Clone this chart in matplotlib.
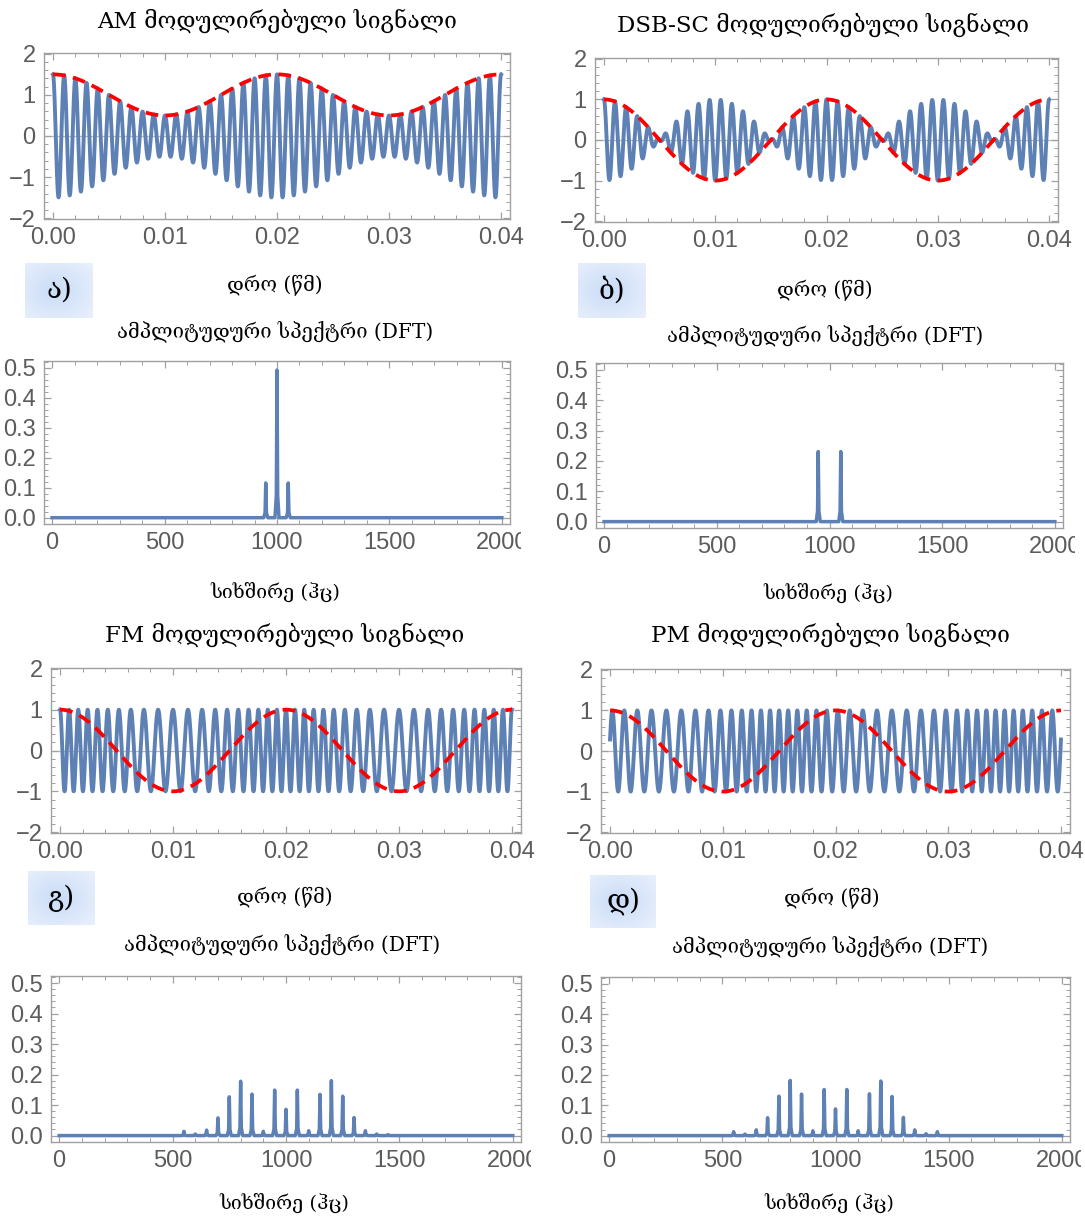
import numpy as np
import matplotlib
matplotlib.use("Agg")
import matplotlib.pyplot as plt
from matplotlib.ticker import MultipleLocator, FixedLocator
from matplotlib.transforms import Bbox
from matplotlib.colors import LinearSegmentedColormap

W, H = 1085, 1217

# ---- signal parameters ----
duration_s = 0.04
carrier_hz = 1000.0
message_hz = 50.0
am_index = 0.5
fm_beta = 5.0
pm_beta = 5.0

# ---- texts ----
panel_titles = ["AM მოდულირებული სიგნალი", "DSB-SC მოდულირებული სიგნალი",
                "FM მოდულირებული სიგნალი", "PM მოდულირებული სიგნალი"]
panel_letters = ["ა)", "ბ)", "გ)", "დ)"]
time_label = "დრო (წმ)"
freq_label = "სიხშირე (ჰც)"
spec_title = "ამპლიტუდური სპექტრი (DFT)"

time_ticks = [0.00, 0.01, 0.02, 0.03, 0.04]
time_tick_labels = ["0.00", "0.01", "0.02", "0.03", "0.04"]
amp_ticks = [-2, -1, 0, 1, 2]
amp_tick_labels = ["\u22122", "\u22121", "0", "1", "2"]
freq_ticks = [0, 500, 1000, 1500, 2000]
freq_tick_labels = ["0", "500", "1000", "1500", "2000"]
spec_ticks = [0.0, 0.1, 0.2, 0.3, 0.4, 0.5]
spec_tick_labels = ["0.0", "0.1", "0.2", "0.3", "0.4", "0.5"]

# ---- spectrum peaks ----
am_peak_hz = [950, 1000, 1050]
am_peak_amp = [0.116, 0.493, 0.116]
dsb_peak_hz = [950, 1050]
dsb_peak_amp = [0.231, 0.231]
fm_peak_hz = [550, 600, 650, 700, 750, 800, 850, 900, 950, 1000,
              1050, 1100, 1150, 1200, 1250, 1300, 1350, 1400, 1450]
fm_peak_amp = [0.014, 0.005, 0.018, 0.058, 0.127, 0.178, 0.136, 0.014, 0.149, 0.086,
               0.149, 0.016, 0.135, 0.180, 0.129, 0.059, 0.016, 0.005, 0.003]
pm_peak_hz = [550, 600, 650, 700, 750, 800, 850, 900, 950, 1000,
              1050, 1100, 1150, 1200, 1250, 1300, 1350, 1400, 1450]
pm_peak_amp = [0.013, 0.005, 0.019, 0.059, 0.130, 0.182, 0.137, 0.016, 0.152, 0.088,
               0.152, 0.016, 0.138, 0.180, 0.129, 0.060, 0.019, 0.006, 0.013]
spec_range_hz = [0, 2000]

BLUE = "#5E81B5"
RED = "#FF0000"
FRAME = "#a0a0a0"
TICKLAB = "#5c5c5c"
SERIF = ["DejaVu Serif", "DejaVu Sans"]
SANS = ["Liberation Sans", "DejaVu Sans"]

t = np.linspace(0.0, duration_s, 4001)
msg = np.cos(2 * np.pi * message_hz * t)
phase = 2 * np.pi * carrier_hz * t
signals = [
    ((1 + am_index * msg) * np.cos(phase), 1 + am_index * msg),
    (msg * np.cos(phase), msg),
    (np.cos(phase + fm_beta * np.sin(2 * np.pi * message_hz * t)), msg),
    (np.cos(phase + pm_beta * msg), msg),
]
spectra = [(am_peak_hz, am_peak_amp), (dsb_peak_hz, dsb_peak_amp),
           (fm_peak_hz, fm_peak_amp), (pm_peak_hz, pm_peak_amp)]

fig = plt.figure(figsize=(W / 100, H / 100), dpi=100)


def px_axes(x0, y0, x1, y1, **kw):
    return fig.add_axes([x0 / W, 1 - y1 / H, (x1 - x0) / W, (y1 - y0) / H], **kw)


def ftext(x, y, s, size, family=SERIF, **kw):
    fig.text(x / W, 1 - y / H, s, fontsize=size, family=family,
             ha="center", va="center", **kw)


def style(ax):
    for sp in ax.spines.values():
        sp.set_color(FRAME)
        sp.set_linewidth(1.0)
    ax.tick_params(which="both", direction="in", top=True, right=True,
                   color=FRAME, labelcolor=TICKLAB, labelsize=17, pad=6)
    ax.tick_params(which="major", length=5, width=0.9)
    ax.tick_params(which="minor", length=2.8, width=0.7)
    for lab in ax.get_xticklabels() + ax.get_yticklabels():
        lab.set_family(SANS)


def spectrum_line(peaks_hz, peaks_amp, half_width=9.0):
    xs = [spec_range_hz[0]]
    ys = [0.0]
    for f, a in sorted(zip(peaks_hz, peaks_amp)):
        xs += [f - half_width, f - 3, f, f + 3, f + half_width]
        ys += [0.0, a * 0.15, a, a * 0.15, 0.0]
    xs.append(spec_range_hz[1])
    ys.append(0.0)
    return xs, ys


# layout in pixels (frame boxes)
layout = [
    dict(time=(44, 53, 510, 219), spec=(44, 361, 510, 524), title=(277, 21),
         tlab=(275, 285), stitle=(275, 332), flab=(275, 592),
         box=(25, 263, 93, 318), clip=521),
    dict(time=(595, 58, 1058, 222), spec=(596, 363, 1063, 528), title=(823, 25),
         tlab=(825, 290), stitle=(825, 336), flab=(828, 593),
         box=(578, 263, 646, 318), clip=1075),
    dict(time=(51, 668, 521, 833), spec=(51, 976, 521, 1142), title=(285, 635),
         tlab=(285, 897), stitle=(282, 945), flab=(284, 1203),
         box=(28, 871, 95, 925), clip=531),
    dict(time=(601, 669, 1070, 833), spec=(601, 977, 1070, 1142), title=(830, 635),
         tlab=(832, 898), stitle=(830, 947), flab=(829, 1203),
         box=(590, 875, 656, 928), clip=1081),
]

# gradient for label boxes
gy, gx = np.mgrid[0:1:60j, 0:1:72j]
grad = np.sqrt(((gx - 0.45) / 0.8) ** 2 + ((gy - 0.5) / 0.8) ** 2)
box_cmap = LinearSegmentedColormap.from_list("bx", ["#c9dcf7", "#dbe7fa", "#ecf2fd"])

for i, L in enumerate(layout):
    sig, env = signals[i]
    # --- time plot ---
    ax = px_axes(*L["time"])
    ax.axhline(0, color="#b8b8b8", lw=0.9, zorder=1)
    ax.plot(t, sig, color=BLUE, lw=2.8, zorder=2, solid_joinstyle="round")
    ax.plot(t, env, color=RED, lw=2.7, dashes=(3.4, 2.0), zorder=3)
    ax.set_xlim(-0.0008, 0.0408)
    ax.set_ylim(-2.02, 2.02)
    ax.xaxis.set_major_locator(FixedLocator(time_ticks))
    ax.set_xticklabels(time_tick_labels)
    ax.xaxis.set_minor_locator(MultipleLocator(0.002))
    ax.yaxis.set_major_locator(FixedLocator(amp_ticks))
    ax.set_yticklabels(amp_tick_labels)
    ax.yaxis.set_minor_locator(MultipleLocator(0.2))
    style(ax)

    # --- spectrum ---
    ax2 = px_axes(*L["spec"])
    xs, ys = spectrum_line(*spectra[i])
    ax2.plot(xs, ys, color=BLUE, lw=2.5, solid_joinstyle="round")
    ax2.set_xlim(-36, 2036)
    ax2.set_ylim(-0.021, 0.523)
    ax2.xaxis.set_major_locator(FixedLocator(freq_ticks))
    ax2.set_xticklabels(freq_tick_labels)
    ax2.xaxis.set_minor_locator(MultipleLocator(100))
    ax2.yaxis.set_major_locator(FixedLocator(spec_ticks))
    ax2.set_yticklabels(spec_tick_labels)
    ax2.yaxis.set_minor_locator(MultipleLocator(0.02))
    style(ax2)
    clipbox = Bbox.from_extents(0, 0, L["clip"], H)
    for lab in ax2.get_xticklabels():
        lab.set_clip_box(clipbox)
        lab.set_clip_on(True)

    # --- texts ---
    ftext(*L["title"], panel_titles[i], 16.5)
    ftext(*L["tlab"], time_label, 14.5)
    ftext(*L["stitle"], spec_title, 14.5)
    ftext(*L["flab"], freq_label, 14)

    # --- label box ---
    bx0, by0, bx1, by1 = L["box"]
    axb = px_axes(bx0, by0, bx1, by1)
    axb.imshow(grad, cmap=box_cmap, aspect="auto", extent=(0, 1, 0, 1),
               vmin=0, vmax=1)
    axb.set_axis_off()
    axb.text(0.5, 0.5, panel_letters[i], fontsize=20, family=SERIF,
             ha="center", va="center", transform=axb.transAxes)

fig.savefig("out.png", dpi=100)
